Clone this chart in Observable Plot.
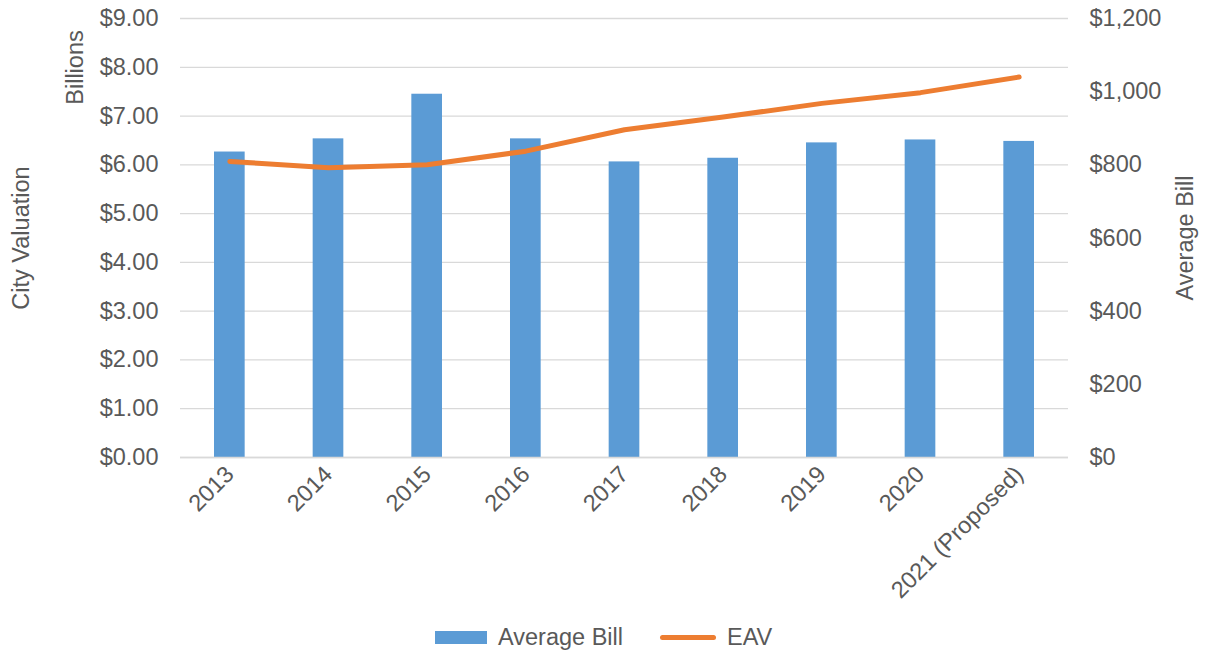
<!DOCTYPE html>
<html>
<head>
<meta charset="utf-8">
<script src="https://cdn.jsdelivr.net/npm/d3@7"></script>
<script src="https://cdn.jsdelivr.net/npm/@observablehq/plot@0.6"></script>
<style>
  body { margin: 0; background: #fff; }
  #wrap { position: relative; width: 1209px; height: 652px; font-family: "Liberation Sans", Arial, sans-serif; color: #595959; }
  #legend { position: absolute; left: 0; top: 624px; width: 1209px; height: 26px; font-size: 23.5px; }
  .sw { position: absolute; }
  .lt { position: absolute; top: 0; line-height: 26px; }
</style>
</head>
<body>
<div id="wrap">
  <div id="chart"></div>
  <div id="legend">
    <div class="sw" style="left:435px;top:7px;width:52px;height:13px;background:#5b9bd5"></div>
    <div class="lt" style="left:498px">Average Bill</div>
    <div class="sw" style="left:660px;top:11px;width:56px;height:5px;border-radius:3px;background:#ed7d31"></div>
    <div class="lt" style="left:727px">EAV</div>
  </div>
</div>
<script>
const years = ["2013", "2014", "2015", "2016", "2017", "2018", "2019", "2020", "2021 (Proposed)"];
const averageBill = [835, 871, 993, 871, 808, 818, 860, 868, 864];   // dollars (right axis)
const eav = [6.07, 5.94, 6.00, 6.28, 6.72, 6.98, 7.26, 7.48, 7.80];   // billions (left axis)
const leftTicks = [0, 1, 2, 3, 4, 5, 6, 7, 8, 9];
const rightTicks = [0, 200, 400, 600, 800, 1000, 1200];
const leftMax = 9, rightMax = 1200;

const toLeft = v => v * leftMax / rightMax;
const rows = years.map((y, i) => ({year: y, bill: averageBill[i], eav: eav[i]}));
const txt = "#595959";
const fs = 23.5;

const chart = Plot.plot({
  width: 1209,
  height: 612,
  marginTop: 18,
  marginBottom: 155,
  marginLeft: 180,
  marginRight: 141,
  style: {fontFamily: "'Liberation Sans', Arial, sans-serif", fontSize: fs + "px", color: txt, background: "#fff"},
  x: {domain: years, padding: 0, round: false},
  y: {domain: [0, leftMax]},
  marks: [
    Plot.gridY(leftTicks, {stroke: "#d9d9d9", strokeOpacity: 1, strokeWidth: 1.3}),
    Plot.barY(rows, {x: "year", y: d => toLeft(d.bill), fill: "#5b9bd5", insetLeft: 34, insetRight: 34}),
    Plot.ruleY([0], {stroke: "#d9d9d9", strokeWidth: 1.5}),
    Plot.line(rows, {x: "year", y: "eav", stroke: "#ed7d31", strokeWidth: 5, strokeLinecap: "round", strokeLinejoin: "round"}),
    Plot.axisY(leftTicks, {anchor: "left", tickSize: 0, tickPadding: 22, tickFormat: d => "$" + d.toFixed(2), label: null, fill: txt, fontSize: fs}),
    Plot.axisY(rightTicks.map(toLeft), {anchor: "right", tickSize: 0, tickPadding: 21, tickFormat: d => d3.format("$,.0f")(Math.round(d * rightMax / leftMax)), label: null, fill: txt, fontSize: fs}),
    Plot.axisX({tickRotate: -45, tickSize: 0, tickPadding: 13, label: null, fill: txt, fontSize: fs}),
    Plot.text(["City Valuation"], {text: d => d, frameAnchor: "left", dx: -159, rotate: -90, textAnchor: "middle", lineAnchor: "middle", fill: txt, fontSize: fs}),
    Plot.text(["Billions"], {text: d => d, frameAnchor: "top-left", dx: -105, dy: 49, rotate: -90, textAnchor: "middle", lineAnchor: "middle", fill: txt, fontSize: fs}),
    Plot.text(["Average Bill"], {text: d => d, frameAnchor: "right", dx: 117, rotate: -90, textAnchor: "middle", lineAnchor: "middle", fill: txt, fontSize: fs})
  ]
});
document.getElementById("chart").appendChild(chart);
</script>
</body>
</html>
